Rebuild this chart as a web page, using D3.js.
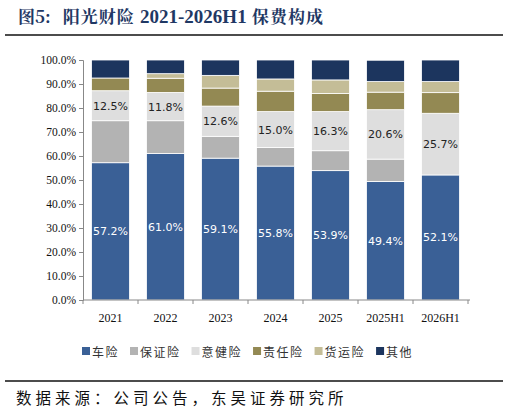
<!DOCTYPE html>
<html><head><meta charset="utf-8">
<script src="https://cdn.jsdelivr.net/npm/d3@7"></script>
<style>body{margin:0;background:#fff}</style>
</head><body><div id="chart"></div>
<script>
const years = ["2021", "2022", "2023", "2024", "2025", "2025H1", "2026H1"];
const seriesNames = ["车险", "保证险", "意健险", "责任险", "货运险", "其他"];
const car = [57.2, 61.0, 59.1, 55.8, 53.9, 49.4, 52.1];
const guarantee = [17.5, 13.7, 9.1, 7.7, 8.3, 9.3, 0.0];
const health = [12.5, 11.8, 12.6, 15.0, 16.3, 20.6, 25.7];
const liability = [5.3, 5.9, 7.5, 8.5, 7.5, 7.3, 8.6];
const cargo = [0.0, 1.9, 5.3, 5.1, 5.7, 4.4, 4.6];
const other = [7.5, 5.7, 6.4, 7.9, 8.3, 8.9, 9.0];
const yTicks = [0, 10, 20, 30, 40, 50, 60, 70, 80, 90, 100];
const colors = ["#3a6096", "#b3b3b3", "#dedede", "#938953", "#c4bd97", "#1c355e"];
const labelSeries = { 0: "white", 2: "#222" };

const W = 509, H = 414;
const svg = d3.select("#chart").append("svg").attr("width", W).attr("height", H);
const font = "'Liberation Serif', 'Times New Roman', serif";
const cjk = "'Noto Sans CJK SC', sans-serif";

// 标题
const title = svg.append("text").attr("x", 18).attr("y", 23)
  .attr("font-family", "'Noto Serif CJK SC', 'Noto Sans CJK SC', serif")
  .attr("font-size", 17).attr("font-weight", "bold").attr("fill", "#1f3864");
title.append("tspan").text("图5:");
title.append("tspan").attr("dx", 12).attr("letter-spacing", 1).text("阳光财险 ");
title.append("tspan").attr("font-family", font).attr("font-size", 19).text("2021-2026H1");
title.append("tspan").attr("letter-spacing", 1).text(" 保费构成");
svg.append("line").attr("x1", 5).attr("x2", 503).attr("y1", 35).attr("y2", 35)
  .attr("stroke", "#111").attr("stroke-width", 1.5);

const rows = years.map((y, i) => ({ year: y, s0: car[i], s1: guarantee[i], s2: health[i], s3: liability[i], s4: cargo[i], s5: other[i] }));
const stack = d3.stack().keys(["s0", "s1", "s2", "s3", "s4", "s5"])(rows);

const x = d3.scaleBand().domain(years).range([83, 468]).paddingInner(0.31).paddingOuter(0.155);
const y = d3.scaleLinear().domain([0, 100]).range([300, 60]);

stack.forEach((layer, k) => {
  svg.append("g").selectAll("rect").data(layer).join("rect")
    .attr("x", d => x(d.data.year)).attr("width", x.bandwidth())
    .attr("y", d => y(d[1])).attr("height", d => Math.max(0, y(d[0]) - y(d[1])))
    .attr("fill", colors[k]).attr("stroke", "#fff").attr("stroke-width", 0.8);
  if (labelSeries[k]) {
    svg.append("g").selectAll("text").data(layer).join("text")
      .attr("x", d => x(d.data.year) + x.bandwidth() / 2)
      .attr("y", d => (y(d[0]) + y(d[1])) / 2 + 4)
      .attr("text-anchor", "middle").attr("font-family", "'DejaVu Sans', sans-serif")
      .attr("font-size", 11).attr("fill", labelSeries[k])
      .text(d => (d[1] - d[0]).toFixed(1) + "%");
  }
});

// Y轴
const ya = svg.append("g").attr("transform", "translate(83,0)")
  .call(d3.axisLeft(y).tickValues(yTicks).tickFormat(d => d.toFixed(1) + "%").tickSize(4));
ya.select(".domain").attr("stroke", "#888");
ya.selectAll(".tick line").attr("stroke", "#888");
ya.selectAll("text").attr("font-family", font).attr("font-size", 11.5).attr("fill", "#111");

// X轴
svg.append("line").attr("x1", 83).attr("x2", 470).attr("y1", 300).attr("y2", 300).attr("stroke", "#888");
const step = x.step();
svg.append("g").selectAll("line").data(d3.range(years.length + 1)).join("line")
  .attr("x1", i => 83 + i * step).attr("x2", i => 83 + i * step)
  .attr("y1", 300).attr("y2", 304).attr("stroke", "#888");
svg.append("g").selectAll("text").data(years).join("text")
  .attr("x", d => x(d) + x.bandwidth() / 2).attr("y", 322)
  .attr("text-anchor", "middle").attr("font-family", font).attr("font-size", 12).attr("fill", "#111")
  .text(d => d);

// 图例
const lg = svg.append("g");
seriesNames.forEach((n, i) => {
  const g = lg.append("g");
  g.append("rect").attr("x", 0).attr("y", -5).attr("width", 8).attr("height", 8).attr("fill", colors[i]);
  g.append("text").attr("x", 10).attr("y", 5).attr("font-family", cjk).attr("font-size", 12)
    .attr("letter-spacing", 1.5).attr("fill", "#333").text(n);
});
let cx = 82;
lg.selectAll("g").each(function () {
  d3.select(this).attr("transform", `translate(${cx},352)`);
  cx += this.getBBox().width + 11;
});

svg.append("line").attr("x1", 5).attr("x2", 503).attr("y1", 381).attr("y2", 381)
  .attr("stroke", "#111").attr("stroke-width", 1.5);
svg.append("text").attr("x", 16).attr("y", 404).attr("font-family", cjk)
  .attr("font-size", 15.5).attr("letter-spacing", 4).attr("fill", "#111").text("数据来源：公司公告，东吴证券研究所");
</script></body></html>
